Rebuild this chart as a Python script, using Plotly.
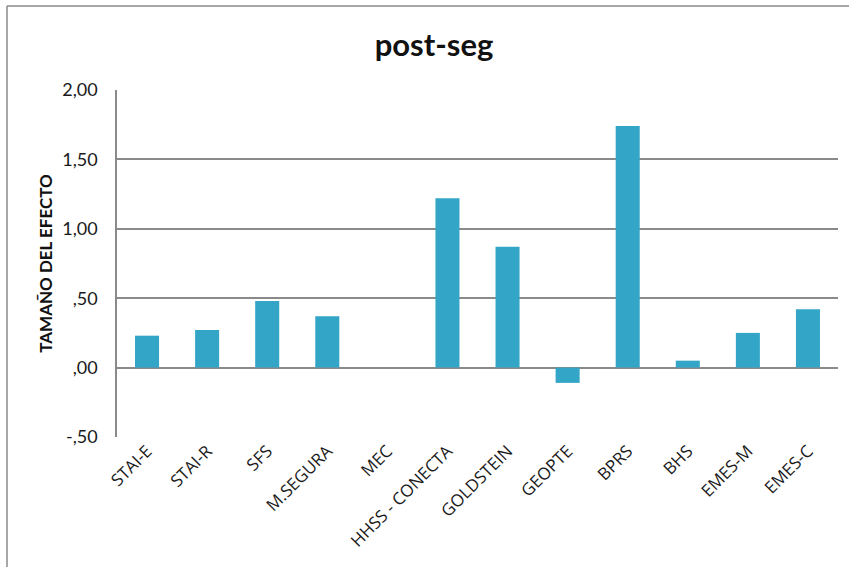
import plotly.graph_objects as go

# Effect sizes (post-seguimiento) per instrument
categories = ["STAI-E", "STAI-R", "SFS", "M.SEGURA", "MEC", "HHSS - CONECTA",
              "GOLDSTEIN", "GEOPTE", "BPRS", "BHS", "EMES-M", "EMES-C"]
effect_sizes = [0.23, 0.27, 0.48, 0.37, 0.00, 1.22, 0.87, -0.11, 1.74, 0.05, 0.25, 0.42]

tick_values = [2.0, 1.5, 1.0, 0.5, 0.0, -0.5]
tick_labels = ["2,00", "1,50", "1,00", ",50", ",00", "-,50"]

W, H = 849, 567
L, R, T, B = 117, 11, 90, 130
plot_w = W - L - R
plot_h = H - T - B

grid_color = "#8a8a8a"
font_family = "Lato, 'Open Sans', sans-serif"

fig = go.Figure()
fig.add_trace(go.Bar(
    x=categories,
    y=effect_sizes,
    width=0.4,
    marker=dict(color="#33a6c8", line=dict(width=0)),
    hovertemplate="%{x}: %{y:.2f}<extra></extra>",
))


def px_to_paper_x(px):
    return (px - L) / plot_w


def px_to_paper_y(py):
    return (H - B - py) / plot_h


# outer chart frame (left and top edges)
frame_left, frame_top = 7, 6
fig.add_shape(type="line", xref="paper", yref="paper",
              x0=px_to_paper_x(frame_left), x1=px_to_paper_x(frame_left),
              y0=px_to_paper_y(frame_top), y1=px_to_paper_y(H + 5),
              line=dict(color="#8a8a8a", width=1.5))
fig.add_shape(type="line", xref="paper", yref="paper",
              x0=px_to_paper_x(frame_left), x1=px_to_paper_x(W + 5),
              y0=px_to_paper_y(frame_top), y1=px_to_paper_y(frame_top),
              line=dict(color="#8a8a8a", width=1.5))

fig.update_layout(
    width=W, height=H,
    margin=dict(l=L, r=R, t=T, b=B, autoexpand=False),
    paper_bgcolor="white",
    plot_bgcolor="white",
    showlegend=False,
    bargap=0.6,
    font=dict(family=font_family, color="#1a1a1a", size=14),
    title=dict(
        text="<b>post-seg</b>",
        x=434 / W, xref="container", xanchor="center",
        y=1 - 45 / H, yref="container", yanchor="middle",
        font=dict(size=31, family=font_family, color="#111111"),
    ),
    xaxis=dict(
        type="category",
        tickangle=-45,
        showgrid=False,
        showline=False,
        zeroline=False,
        ticks="",
        tickfont=dict(size=17, family="'Open Sans', sans-serif", color="#1a1a1a"),
        automargin=False,
    ),
    yaxis=dict(
        range=[-0.5, 2.0],
        tickvals=tick_values,
        ticktext=tick_labels,
        showgrid=True,
        gridcolor=grid_color,
        gridwidth=1.5,
        zeroline=True,
        zerolinecolor=grid_color,
        zerolinewidth=1.5,
        showline=True,
        linecolor=grid_color,
        linewidth=1.5,
        ticks="",
        ticklabelstandoff=14,
        tickfont=dict(size=18, family=font_family, color="#1a1a1a"),
        title=dict(
            text="<b>TAMAÑO DEL EFECTO</b>",
            font=dict(size=17, family=font_family, color="#111111"),
            standoff=5,
        ),
        automargin=False,
    ),
)

fig.write_html("out.html")
